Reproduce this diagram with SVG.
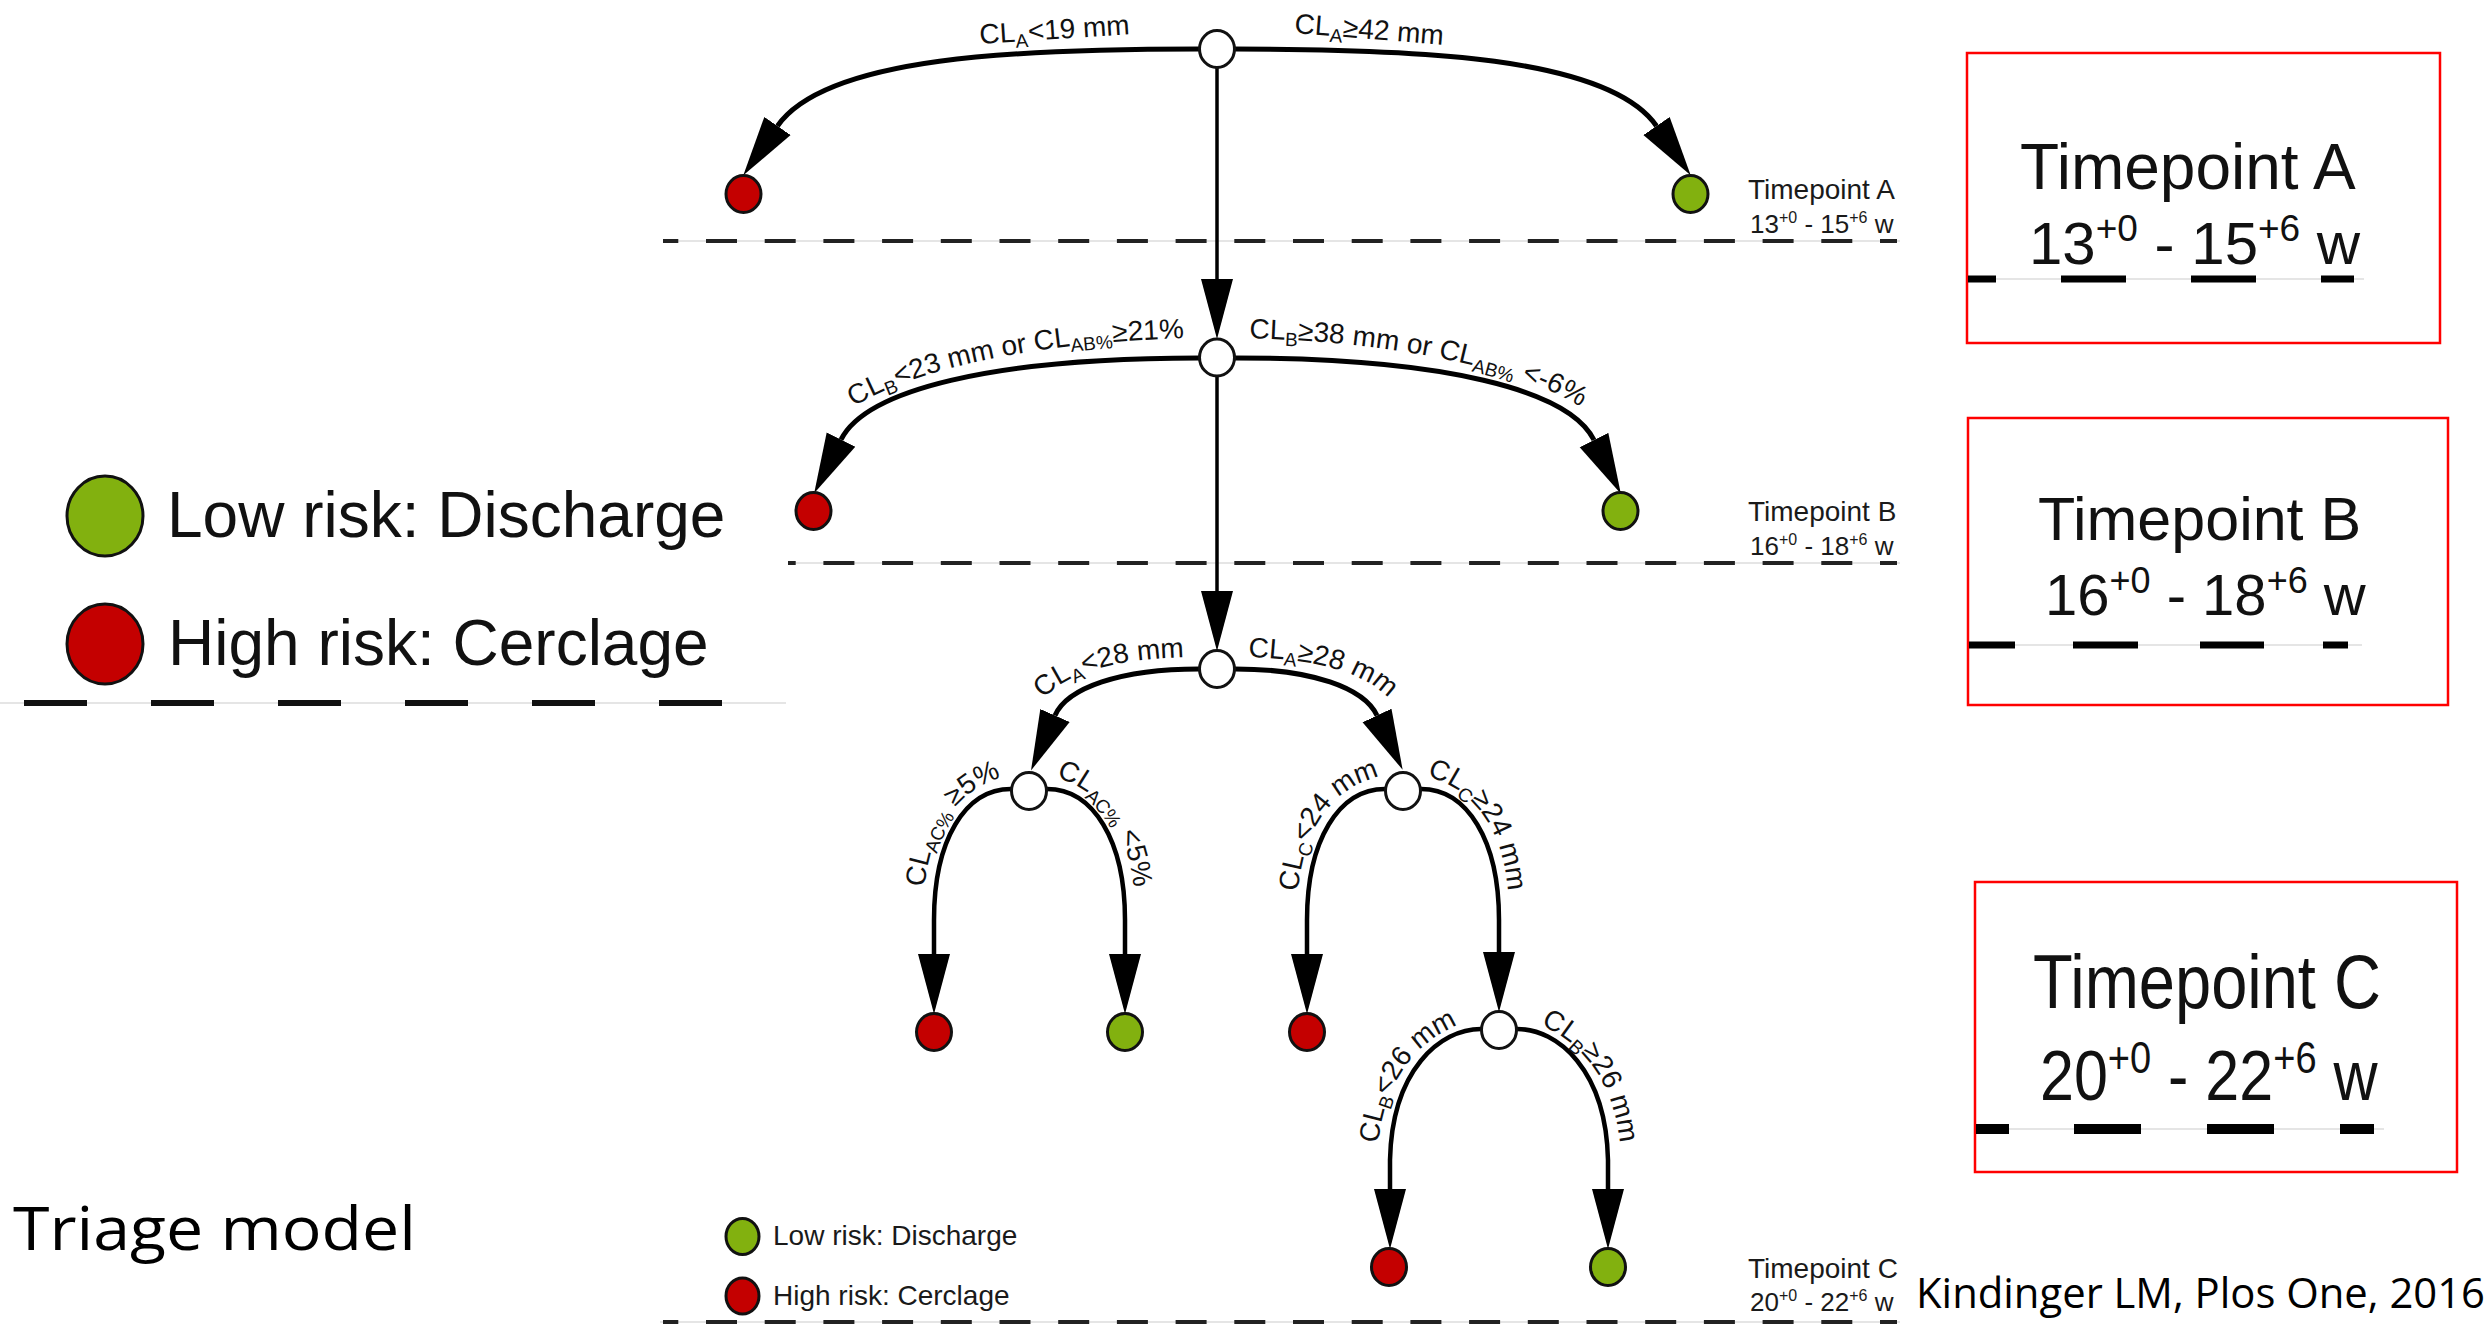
<svg xmlns="http://www.w3.org/2000/svg" width="2491" height="1326" viewBox="0 0 2491 1326">
<style>
.lbl{font-family:"Liberation Sans",Arial,sans-serif;font-size:28px;fill:#111}
.sub{font-size:19px}
.node{fill:#fff;stroke:#111;stroke-width:3}
.red{fill:#c40000;stroke:#111;stroke-width:3}
.green{fill:#82b10f;stroke:#111;stroke-width:3}
.arc{fill:none;stroke:#000;stroke-width:5;marker-end:url(#ah)}
.arc2{fill:none;stroke:#000;stroke-width:4.5;marker-end:url(#ah)}
.trunk{fill:none;stroke:#000;stroke-width:3.5;marker-end:url(#ah)}
.dash{stroke:#222;stroke-width:4;stroke-dasharray:31 27.7;fill:none}
.thin{stroke:#dcdcdc;stroke-width:1.5;fill:none}
.tp{font-family:"Liberation Sans",Arial,sans-serif;fill:#1a1a1a}
.box{fill:none;stroke:#f00;stroke-width:2.5}
.bd{stroke:#000;fill:none}
.big{font-family:"Liberation Sans",Arial,sans-serif;fill:#111}
.cal{font-family:"Open Sans","Noto Sans",sans-serif;fill:#000}
</style>
<defs>
<marker id="ah" markerUnits="userSpaceOnUse" markerWidth="60" markerHeight="34" viewBox="0 0 60 34" refX="0" refY="17" orient="auto">
<path d="M0,1 L60,17 L0,33 Z" fill="#000"/>
</marker>
<path id="lp3" d="M838,420 C870,385 1000,340 1205,338"/>
<path id="lp4" d="M1229,338 C1434,340 1564,385 1596,420"/>
<path id="lp5" d="M1035,712 C1050,680 1100,657 1200,657"/>
<path id="lp6" d="M1232,657 C1332,657 1382,680 1397,712"/>
<path id="lp7" d="M924,893 C928,840 950,790 1007,776"/>
<path id="lp8" d="M1051,776 C1108,790 1130,840 1134,893"/>
<path id="lp9" d="M1298,893 C1302,840 1324,790 1381,776"/>
<path id="lp10" d="M1425,776 C1482,790 1504,840 1508,893"/>
<path id="lp11" d="M1377,1165 C1378,1085 1415,1035 1478,1018"/>
<path id="lp12" d="M1520,1018 C1583,1035 1620,1085 1621,1165"/>
</defs>
<rect width="2491" height="1326" fill="#fff"/>

<!-- dashed timepoint lines -->
<g id="timelines">
<line class="thin" x1="663" y1="241" x2="1900" y2="241"/>
<line class="dash" x1="663" y1="241" x2="1897" y2="241" stroke-dashoffset="15.7"/>
<line class="thin" x1="788" y1="563" x2="1900" y2="563"/>
<line class="dash" x1="788" y1="563" x2="1897" y2="563" stroke-dashoffset="23.3"/>
<line class="thin" x1="660" y1="1322" x2="1900" y2="1322"/>
<line class="dash" x1="663" y1="1322" x2="1897" y2="1322" stroke-dashoffset="15.7"/>
</g>

<!-- connectors -->
<g id="connectors">
<path class="arc" d="M1200,49 C1020,49 826,56 777.5,126"/>
<path class="arc" d="M1234,49 C1414,49 1608,56 1656.5,126"/>
<path class="trunk" d="M1217,67 L1217,279"/>
<path class="arc" d="M1199,358 C990,358 865.6,390.5 841,439.7"/>
<path class="arc" d="M1235,358 C1444,358 1569,390 1594,440"/>
<path class="trunk" d="M1217,376 L1217,591"/>
<path class="arc" d="M1199,669 C1120,669 1067,688 1055,715.5"/>
<path class="arc" d="M1235,669 C1312,669 1364,688 1377,715.5"/>
<path class="arc2" d="M1011,789 C965,789 934,840 934,920 L934,954"/>
<path class="arc2" d="M1047,789 C1093,789 1125,840 1125,920 L1125,954"/>
<path class="arc2" d="M1385,789 C1339,789 1307,840 1307,920 L1307,954"/>
<path class="arc2" d="M1421,789 C1467,789 1499,840 1499,920 L1499,952"/>
<path class="arc2" d="M1481,1029 C1440,1029 1392,1070 1390,1160 L1390,1189"/>
<path class="arc2" d="M1517,1029 C1558,1029 1606,1070 1608,1160 L1608,1189"/>
</g>

<!-- connector labels -->
<g id="labels">
<text class="lbl" x="980" y="44" transform="rotate(-3.7 980 44)">CL<tspan class="sub" baseline-shift="-6">A</tspan>&lt;19 mm</text>
<text class="lbl" x="1294" y="33" transform="rotate(4.5 1294 33)">CL<tspan class="sub" baseline-shift="-6">A</tspan>≥42 mm</text>
<text class="lbl"><textPath href="#lp3" startOffset="50%" text-anchor="middle">CL<tspan class="sub" baseline-shift="-6">B</tspan>&lt;23 mm or CL<tspan class="sub" baseline-shift="-6">AB%</tspan>≥21%</textPath></text>
<text class="lbl"><textPath href="#lp4" startOffset="50%" text-anchor="middle">CL<tspan class="sub" baseline-shift="-6">B</tspan>≥38 mm or CL<tspan class="sub" baseline-shift="-6">AB%</tspan> &lt;-6%</textPath></text>
<text class="lbl"><textPath href="#lp5" startOffset="50%" text-anchor="middle">CL<tspan class="sub" baseline-shift="-6">A</tspan>&lt;28 mm</textPath></text>
<text class="lbl"><textPath href="#lp6" startOffset="50%" text-anchor="middle">CL<tspan class="sub" baseline-shift="-6">A</tspan>≥28 mm</textPath></text>
<text class="lbl"><textPath href="#lp7" startOffset="50%" text-anchor="middle">CL<tspan class="sub" baseline-shift="-6">AC%</tspan> ≥5%</textPath></text>
<text class="lbl"><textPath href="#lp8" startOffset="50%" text-anchor="middle">CL<tspan class="sub" baseline-shift="-6">AC%</tspan> &lt;5%</textPath></text>
<text class="lbl"><textPath href="#lp9" startOffset="50%" text-anchor="middle">CL<tspan class="sub" baseline-shift="-6">C</tspan>&lt;24 mm</textPath></text>
<text class="lbl"><textPath href="#lp10" startOffset="50%" text-anchor="middle">CL<tspan class="sub" baseline-shift="-6">C</tspan>≥24 mm</textPath></text>
<text class="lbl"><textPath href="#lp11" startOffset="50%" text-anchor="middle">CL<tspan class="sub" baseline-shift="-6">B</tspan>&lt;26 mm</textPath></text>
<text class="lbl"><textPath href="#lp12" startOffset="50%" text-anchor="middle">CL<tspan class="sub" baseline-shift="-6">B</tspan>≥26 mm</textPath></text>
</g>

<!-- nodes -->
<g id="n1"><ellipse class="node" cx="1217" cy="49" rx="17.5" ry="18.5"/></g>
<g id="n2"><ellipse class="node" cx="1217" cy="357.5" rx="17.5" ry="18.5"/></g>
<g id="n3"><ellipse class="node" cx="1217" cy="669" rx="17.5" ry="18.5"/></g>
<g id="n4"><ellipse class="node" cx="1029" cy="791" rx="17.5" ry="18.5"/></g>
<g id="n5"><ellipse class="node" cx="1403" cy="791" rx="17.5" ry="18.5"/></g>
<g id="n6"><ellipse class="node" cx="1499" cy="1030" rx="17.5" ry="18.5"/></g>
<g id="leafA1"><ellipse class="red" cx="743.5" cy="194" rx="17.5" ry="18.5"/></g>
<g id="leafA2"><ellipse class="green" cx="1690.5" cy="194" rx="17.5" ry="18.5"/></g>
<g id="leafB1"><ellipse class="red" cx="813.5" cy="511" rx="17.5" ry="18.5"/></g>
<g id="leafB2"><ellipse class="green" cx="1620.5" cy="511" rx="17.5" ry="18.5"/></g>
<g id="leafC1"><ellipse class="red" cx="934" cy="1032" rx="17.5" ry="18.5"/></g>
<g id="leafC2"><ellipse class="green" cx="1125" cy="1032" rx="17.5" ry="18.5"/></g>
<g id="leafC3"><ellipse class="red" cx="1307" cy="1032" rx="17.5" ry="18.5"/></g>
<g id="leafC4"><ellipse class="red" cx="1389" cy="1267" rx="17.5" ry="18.5"/></g>
<g id="leafC5"><ellipse class="green" cx="1608" cy="1267" rx="17.5" ry="18.5"/></g>

<!-- small timepoint labels -->
<g id="tpA-small">
<text class="tp" x="1748" y="199" font-size="28">Timepoint A</text>
<text class="tp" x="1750" y="233" font-size="26">13<tspan font-size="16" baseline-shift="10">+0</tspan> - 15<tspan font-size="16" baseline-shift="10">+6</tspan> w</text>
</g>
<g id="tpB-small">
<text class="tp" x="1748" y="521" font-size="28">Timepoint B</text>
<text class="tp" x="1750" y="555" font-size="26">16<tspan font-size="16" baseline-shift="10">+0</tspan> - 18<tspan font-size="16" baseline-shift="10">+6</tspan> w</text>
</g>
<g id="tpC-small">
<text class="tp" x="1748" y="1278" font-size="28">Timepoint C</text>
<text class="tp" x="1750" y="1311" font-size="26">20<tspan font-size="16" baseline-shift="10">+0</tspan> - 22<tspan font-size="16" baseline-shift="10">+6</tspan> w</text>
</g>

<!-- small legend -->
<g id="legend-small">
<ellipse class="green" cx="742.5" cy="1236.5" rx="16.5" ry="18"/>
<text class="tp" x="773" y="1245" font-size="28">Low risk: Discharge</text>
<ellipse class="red" cx="742.5" cy="1296" rx="16.5" ry="18"/>
<text class="tp" x="773" y="1305" font-size="28">High risk: Cerclage</text>
</g>

<!-- big legend -->
<g id="legend-big">
<ellipse class="green" cx="105" cy="516" rx="38" ry="40" stroke-width="5"/>
<text class="big" x="167" y="537" font-size="64">Low risk: Discharge</text>
<ellipse class="red" cx="105" cy="644" rx="38" ry="40" stroke-width="5"/>
<text class="big" x="168" y="665" font-size="64">High risk: Cerclage</text>
<line class="thin" x1="0" y1="703" x2="786" y2="703"/>
<line x1="24" y1="703" x2="731" y2="703" stroke="#111" stroke-width="6" stroke-dasharray="63 64"/>
</g>

<!-- zoomed boxes -->
<g id="boxA">
<rect class="box" x="1967" y="53" width="473" height="290"/>
<text class="big" x="2020" y="189" font-size="64">Timepoint A</text>
<text class="big" x="2029" y="264" font-size="60">13<tspan font-size="37" baseline-shift="23">+0</tspan> - 15<tspan font-size="37" baseline-shift="23">+6</tspan> w</text>
<line class="thin" x1="1968" y1="279" x2="2364" y2="279"/>
<g class="bd" stroke-width="7"><line x1="1968" y1="279" x2="1996" y2="279"/><line x1="2061" y1="279" x2="2126" y2="279"/><line x1="2191" y1="279" x2="2256" y2="279"/><line x1="2321" y1="279" x2="2354" y2="279"/></g>
</g>
<g id="boxB">
<rect class="box" x="1968" y="418" width="480" height="287"/>
<text class="big" x="2038" y="540" font-size="61">Timepoint B</text>
<text class="big" x="2045" y="615" font-size="58">16<tspan font-size="36" baseline-shift="22">+0</tspan> - 18<tspan font-size="36" baseline-shift="22">+6</tspan> w</text>
<line class="thin" x1="1969" y1="645" x2="2362" y2="645"/>
<g class="bd" stroke-width="7"><line x1="1969" y1="645" x2="2015" y2="645"/><line x1="2073" y1="645" x2="2138" y2="645"/><line x1="2200" y1="645" x2="2264" y2="645"/><line x1="2323" y1="645" x2="2348" y2="645"/></g>
</g>
<g id="boxC">
<rect class="box" x="1975" y="882" width="482" height="290"/>
<text class="big" transform="translate(2033 1008) scale(1 1.16)" font-size="65">Timepoint C</text>
<text class="big" transform="translate(2040 1100) scale(1 1.16)" font-size="61">20<tspan font-size="38" baseline-shift="23">+0</tspan> - 22<tspan font-size="38" baseline-shift="23">+6</tspan> w</text>
<line class="thin" x1="1976" y1="1129" x2="2384" y2="1129"/>
<g class="bd" stroke-width="10"><line x1="1976" y1="1129" x2="2009" y2="1129"/><line x1="2074" y1="1129" x2="2141" y2="1129"/><line x1="2207" y1="1129" x2="2274" y2="1129"/><line x1="2340" y1="1129" x2="2374" y2="1129"/></g>
</g>

<g id="captions">
<text class="cal" x="13" y="1250" font-size="60" textLength="403" lengthAdjust="spacingAndGlyphs">Triage model</text>
<text class="cal" x="1916" y="1308" font-size="42" textLength="569" lengthAdjust="spacingAndGlyphs">Kindinger LM, Plos One, 2016</text>
</g>
</svg>
